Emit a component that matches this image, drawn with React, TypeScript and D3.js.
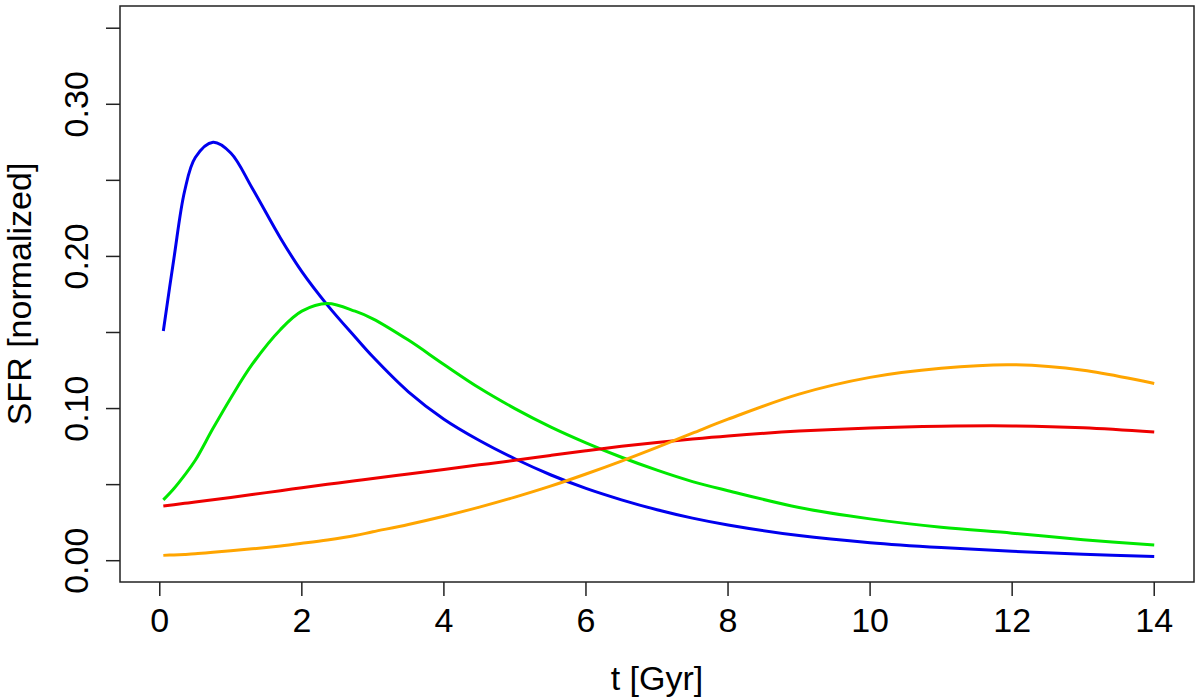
// SFR histories (normalized) vs cosmic time, R base-graphics look
import * as d3 from "d3"

const times = [0.05, 0.2, 0.35, 0.5, 0.75, 1, 1.3, 1.7, 2, 2.36, 2.75, 3, 3.5, 4, 4.5, 5, 5.5, 6, 6.5, 7, 7.5, 8, 9, 10, 11, 12, 13, 14]

const blueSfr = [0.151, 0.199, 0.243, 0.265, 0.275, 0.268, 0.245, 0.212, 0.190, 0.168, 0.147, 0.134, 0.111, 0.093, 0.079, 0.067, 0.0565, 0.0475, 0.040, 0.0335, 0.028, 0.0235, 0.0165, 0.0118, 0.0086, 0.0062, 0.0043, 0.0027]
const greenSfr = [0.040, 0.0475, 0.0563, 0.066, 0.087, 0.107, 0.129, 0.152, 0.164, 0.169, 0.164, 0.159, 0.145, 0.129, 0.1135, 0.100, 0.088, 0.0775, 0.068, 0.0595, 0.052, 0.046, 0.035, 0.0275, 0.022, 0.0181, 0.0138, 0.0103]
const redSfr = [0.0359, 0.0368, 0.0377, 0.0386, 0.0401, 0.0416, 0.0435, 0.046, 0.048, 0.0502, 0.0525, 0.054, 0.057, 0.060, 0.063, 0.066, 0.0692, 0.0723, 0.0752, 0.0777, 0.080, 0.082, 0.0852, 0.0873, 0.0884, 0.0886, 0.0874, 0.0846]
const orangeSfr = [0.0035, 0.0038, 0.0041, 0.0045, 0.0055, 0.0066, 0.0078, 0.0097, 0.0114, 0.0136, 0.0165, 0.019, 0.0238, 0.0292, 0.0352, 0.0418, 0.049, 0.057, 0.0655, 0.0745, 0.0838, 0.093, 0.1095, 0.1205, 0.1265, 0.1288, 0.1252, 0.1165]

const xTicks = [0, 2, 4, 6, 8, 10, 12, 14]
const yTicks = [0, 0.05, 0.1, 0.15, 0.2, 0.25, 0.3, 0.35]
const yLabelled = [0, 0.1, 0.2, 0.3]

const series = [
  { name: "blue", color: "#0000ee", values: blueSfr },
  { name: "green", color: "#00e800", values: greenSfr },
  { name: "red", color: "#ee0000", values: redSfr },
  { name: "orange", color: "#ffa500", values: orangeSfr },
]

export default function App() {
  const width = 1200
  const height = 698
  const box = { left: 120, right: 1194, top: 6, bottom: 582 }
  const font = "'Liberation Sans', Arial, sans-serif"

  const x = d3.scaleLinear().domain([-0.56, 14.56]).range([box.left, box.right])
  const y = d3.scaleLinear().domain([-0.014, 0.3646]).range([box.bottom, box.top])

  const line = d3.line<number>()
    .x((_, i) => x(times[i]))
    .y(d => y(d))
    .curve(d3.curveCatmullRom.alpha(0.5))

  return (
    <svg width={width} height={height} style={{ position: "absolute", left: 0, top: 0, background: "#fff" }}
      fontFamily={font}>
      {/* plot box */}
      <rect x={box.left} y={box.top} width={box.right - box.left} height={box.bottom - box.top}
        fill="none" stroke="#222" strokeWidth={1.5} />

      {/* x axis */}
      {xTicks.map(t => (
        <g key={"x" + t}>
          <line x1={x(t)} x2={x(t)} y1={box.bottom} y2={box.bottom + 14} stroke="#222" strokeWidth={1.5} />
          <text x={x(t)} y={632} textAnchor="middle" fontSize={34}>{t}</text>
        </g>
      ))}
      <text x={(box.left + box.right) / 2} y={690} textAnchor="middle" fontSize={34}>t [Gyr]</text>

      {/* y axis */}
      {yTicks.map(v => (
        <line key={"y" + v} x1={box.left - 14} x2={box.left} y1={y(v)} y2={y(v)} stroke="#222" strokeWidth={1.5} />
      ))}
      {yLabelled.map(v => (
        <text key={"yl" + v} transform={`translate(88,${y(v)}) rotate(-90)`} textAnchor="middle" fontSize={34}>
          {d3.format(".2f")(v)}
        </text>
      ))}
      <text transform={`translate(31,${(box.top + box.bottom) / 2}) rotate(-90)`} textAnchor="middle" fontSize={34}>
        SFR [normalized]
      </text>

      {/* curves */}
      {series.map(s => (
        <path key={s.name} d={line(s.values) ?? ""} fill="none" stroke={s.color} strokeWidth={3} />
      ))}
    </svg>
  )
}
